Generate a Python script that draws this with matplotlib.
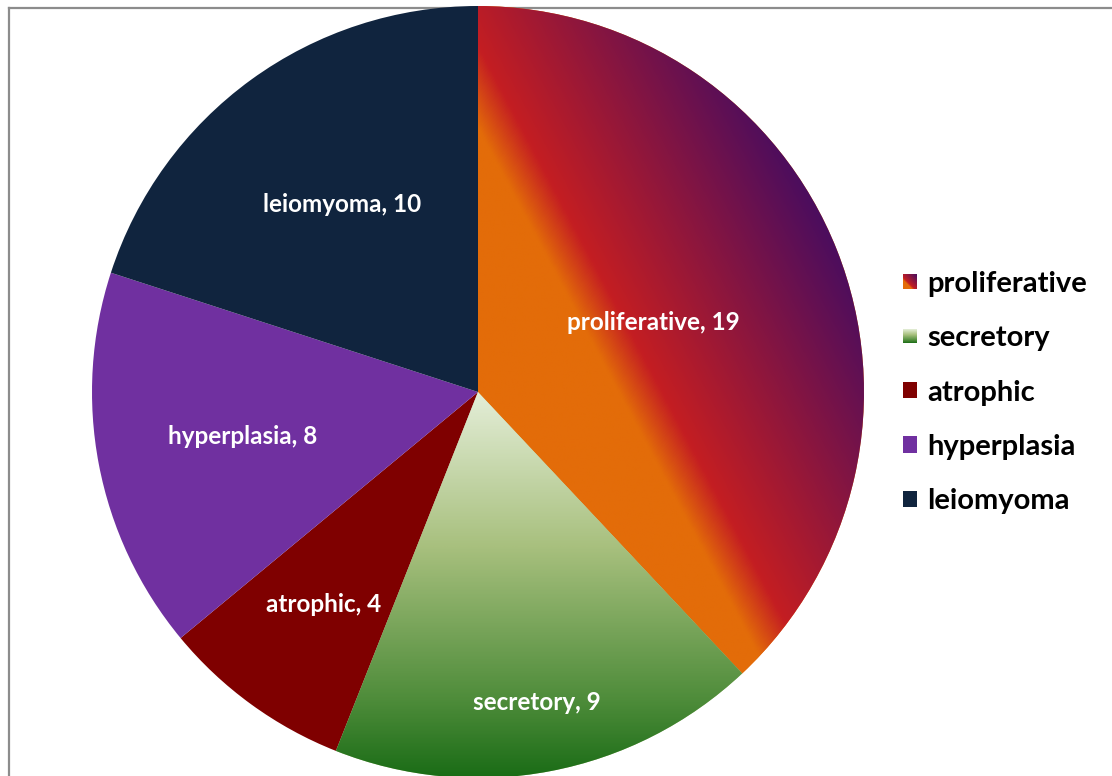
import matplotlib
matplotlib.use("Agg")
import matplotlib.pyplot as plt
import numpy as np
from matplotlib.colors import LinearSegmentedColormap
from matplotlib.legend_handler import HandlerBase
from matplotlib.lines import Line2D
from matplotlib.patches import Patch, Rectangle

categories = ["proliferative", "secretory", "atrophic", "hyperplasia", "leiomyoma"]
counts = [19, 9, 4, 8, 10]
solid_colors = ["#e36c09", "#a8c07e", "#7f0000", "#7030a0", "#10243e"]

# gradient fills used by the first two slices
fire = LinearSegmentedColormap.from_list(
    "fire", [(0.0, "#e36c09"), (0.32, "#e36c09"), (0.42, "#c41e22"), (1.0, "#4b0d5e")])
green = LinearSegmentedColormap.from_list(
    "green", [(0.0, "#e4eed8"), (0.4, "#a8c07e"), (0.8, "#4e8c3a"), (1.0, "#1a6c16")])

# label radius (fraction of pie radius) for each slice
label_radius = [0.49, 0.82, 0.68, 0.62, 0.60]

W, H = 1112, 776
fig = plt.figure(figsize=(W / 100, H / 100), dpi=100)
fig.patch.set_facecolor("white")

# chart area border (only the top and left edges are inside the frame)
border = dict(transform=fig.transFigure, color="#8c8c8c", lw=1.6, zorder=-1)
fig.add_artist(Line2D([8.5 / W, 1], [1 - 7.5 / H, 1 - 7.5 / H], **border))
fig.add_artist(Line2D([8.5 / W, 8.5 / W], [0, 1 - 7.5 / H], **border))

R = 386
cx, cy = 478, 392
ax = fig.add_axes([(cx - R) / W, (H - cy - R) / H, 2 * R / W, 2 * R / H])

wedges, _ = ax.pie(counts, colors=solid_colors, startangle=90, counterclock=False,
                   radius=1, wedgeprops=dict(linewidth=0, antialiased=True))
ax.set_xlim(-1, 1)
ax.set_ylim(-1, 1)
ax.set_aspect("equal")

# gradient images clipped to their wedges
n = 700
g = np.linspace(-1, 1, n)
gx, gy = np.meshgrid(g, g)
ang = np.deg2rad(28)
fire_t = np.clip(gx * np.cos(ang) + gy * np.sin(ang), 0, 1)
green_t = np.clip(-gy, 0, 1)
for wedge, img in ((wedges[0], fire(fire_t)), (wedges[1], green(green_t))):
    im = ax.imshow(img, extent=(-1, 1, -1, 1), origin="lower",
                   interpolation="bilinear", zorder=wedge.get_zorder() + 0.1)
    im.set_clip_path(wedge)

# data labels
for wedge, name, value, r in zip(wedges, categories, counts, label_radius):
    mid = np.deg2rad((wedge.theta1 + wedge.theta2) / 2)
    ax.text(r * np.cos(mid), r * np.sin(mid), f"{name}, {value}",
            ha="center", va="center", color="white", fontsize=17.5,
            fontweight="bold", family="Lato", zorder=5)


class GradientSquare(HandlerBase):
    def __init__(self, cmap, diagonal):
        super().__init__()
        self.cmap = cmap
        self.diagonal = diagonal

    def create_artists(self, legend, orig_handle, xdescent, ydescent,
                       width, height, fontsize, trans):
        steps = 14
        side = min(width, height)
        x0, y0 = -xdescent, -ydescent + (height - side) / 2
        s = side / steps
        artists = []
        for i in range(steps):
            for j in range(steps):
                if self.diagonal:
                    t = (i + j + 1) / (2 * steps)
                else:
                    t = 1 - (j + 0.5) / steps
                artists.append(Rectangle((x0 + i * s, y0 + j * s), s * 1.05, s * 1.05,
                                         facecolor=self.cmap(t), edgecolor="none",
                                         transform=trans))
        return artists


handles = [Patch(facecolor=c, edgecolor="none") for c in solid_colors]
leg = fig.legend(handles, categories, loc="center left",
                 bbox_to_anchor=(903 / W, 1 - 392.5 / H), frameon=False,
                 borderpad=0, borderaxespad=0, handlelength=0.48, handleheight=0.48,
                 handletextpad=0.34, labelspacing=0.97,
                 prop=dict(family="Lato", weight="bold", size=21),
                 handler_map={handles[0]: GradientSquare(fire, True),
                              handles[1]: GradientSquare(green, False)})

fig.savefig("out.png", dpi=100)
